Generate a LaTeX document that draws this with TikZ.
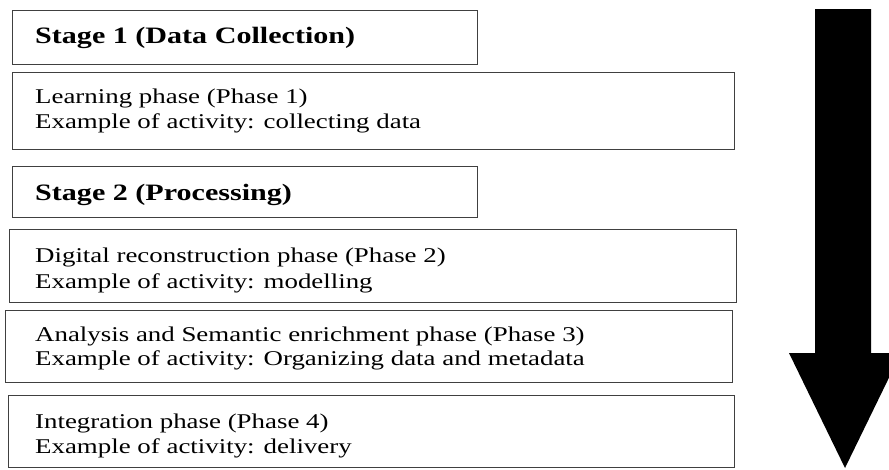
\documentclass[tikz,border=0pt]{standalone}
\usepackage{graphicx}
\usepackage{fontspec}
\setmainfont{Liberation Serif}
\newcommand{\sx}[1]{\scalebox{1.28}[1]{#1}}
\tikzset{
  box/.style={draw=black!75, line width=1.3pt, inner sep=0pt, anchor=north west},
  txt/.style={anchor=base west, inner sep=0pt, text=black, font=\fontsize{21}{24}\selectfont},
  hd/.style={anchor=base west, inner sep=0pt, text=black, font=\fontsize{23.5}{26}\selectfont\bfseries},
}
\begin{document}
\begin{tikzpicture}[x=1pt,y=-1pt]
\useasboundingbox (0,0) rectangle (889,469);
\clip (0,0) rectangle (889,469);
% boxes
\node[box, minimum width=465pt, minimum height=54pt] (b1) at (12,10) {};
\node[box, minimum width=722pt, minimum height=77pt] (b2) at (12,72) {};
\node[box, minimum width=465pt, minimum height=51pt] (b3) at (12,166) {};
\node[box, minimum width=727pt, minimum height=73pt] (b4) at (9,229) {};
\node[box, minimum width=727pt, minimum height=72pt] (b5) at (5,310) {};
\node[box, minimum width=726pt, minimum height=72pt] (b6) at (8,395) {};
% texts
\node[hd] (t1) at (35,43) {\sx{Stage 1 (Data Collection)}};
\node[txt] (t2a) at (35,103) {\sx{Learning phase (Phase 1)}};
\node[txt] (t2b) at (35,128) {\sx{Example of activity: collecting data}};
\node[hd] (t3) at (35,200) {\sx{Stage 2 (Processing)}};
\node[txt] (t4a) at (35,262) {\sx{Digital reconstruction phase (Phase 2)}};
\node[txt] (t4b) at (35,288) {\sx{Example of activity: modelling}};
\node[txt] (t5a) at (35,341) {\sx{Analysis and Semantic enrichment phase (Phase 3)}};
\node[txt] (t5b) at (35,365) {\sx{Example of activity: Organizing data and metadata}};
\node[txt] (t6a) at (35,428) {\sx{Integration phase (Phase 4)}};
\node[txt] (t6b) at (35,453) {\sx{Example of activity: delivery}};
% big arrow
\fill[black] (815,9) -- (871,9) -- (871,353) -- (901,353) -- (845,468) -- (789,353) -- (815,353) -- cycle;
\end{tikzpicture}
\end{document}
